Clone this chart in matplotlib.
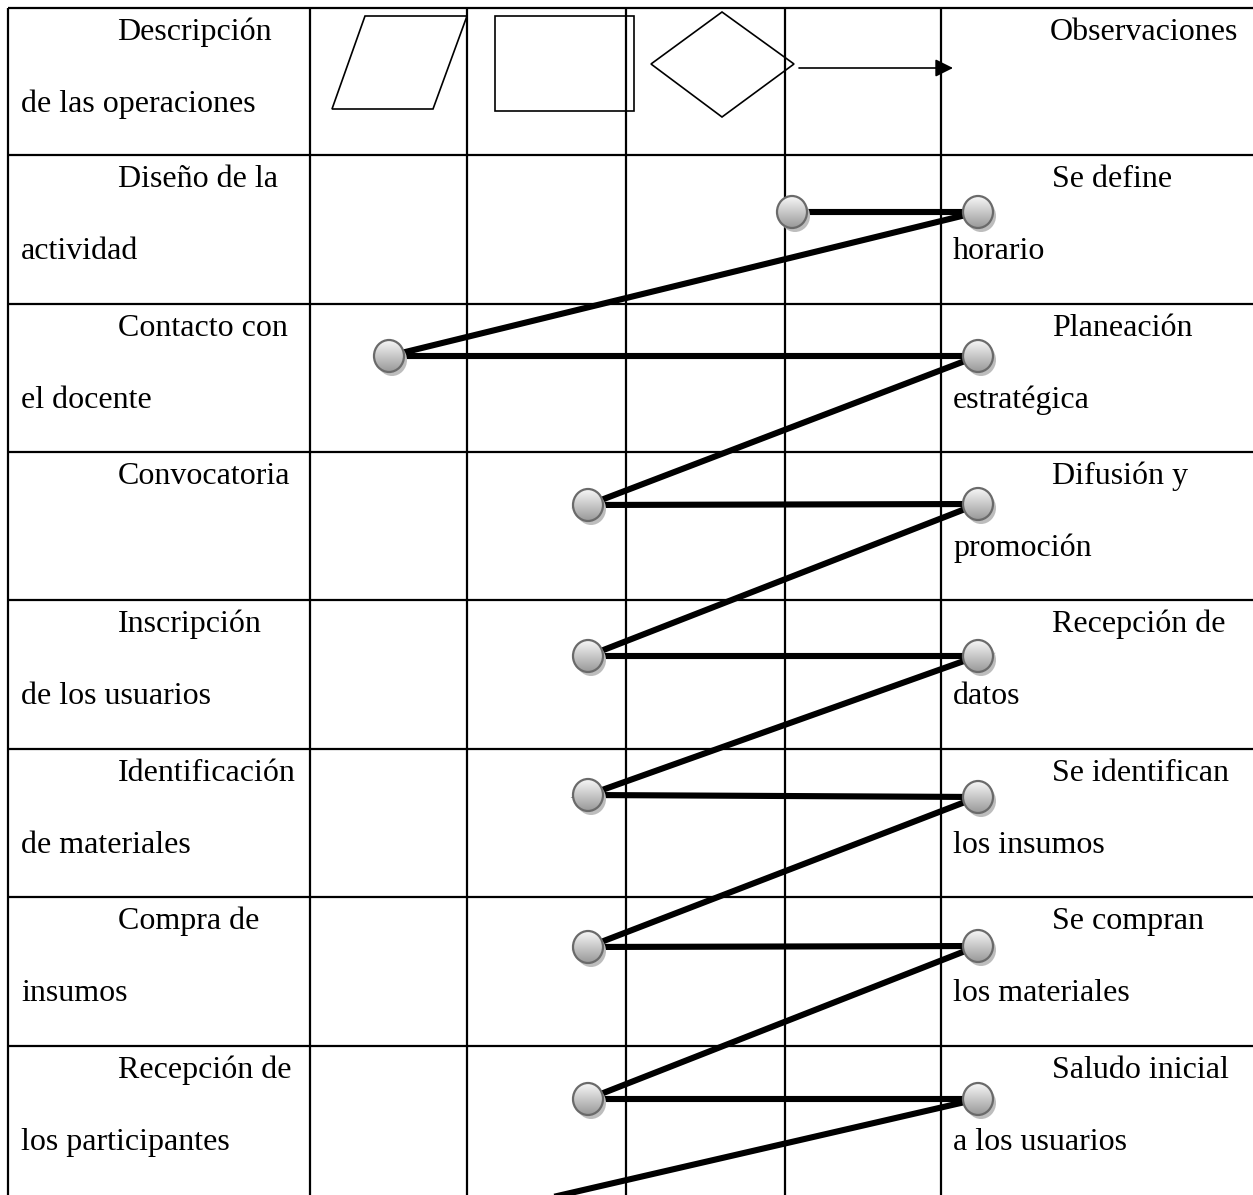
import numpy as np
import matplotlib
matplotlib.use("Agg")
import matplotlib.pyplot as plt
from matplotlib.patches import Ellipse, Polygon, Rectangle

# ---------------- data ----------------
header_left = ["Descripción", "de las operaciones"]
header_right = "Observaciones"

operations = [
    ("Diseño de la", "actividad"),
    ("Contacto con", "el docente"),
    ("Convocatoria", ""),
    ("Inscripción", "de los usuarios"),
    ("Identificación", "de materiales"),
    ("Compra de", "insumos"),
    ("Recepción de", "los participantes"),
]
observations = [
    ("Se define", "horario"),
    ("Planeación", "estratégica"),
    ("Difusión y", "promoción"),
    ("Recepción de", "datos"),
    ("Se identifican", "los insumos"),
    ("Se compran", "los materiales"),
    ("Saludo inicial", "a los usuarios"),
]

# node positions (page units) for each step: left node and right node
left_node_x = [792, 389, 588, 588, 588, 588, 588]
left_node_y = [212, 356, 505, 656, 795, 947, 1099]
right_node_x = [978, 978, 978, 978, 978, 978, 978]
right_node_y = [212, 356, 504, 656, 797, 946, 1099]
tail_point = (540, 1200)

# table layout
col_edges = [8, 310, 467, 626, 785, 941]
row_edges = [8, 155, 304, 452, 600, 749, 897, 1046]
W, H = 1253, 1195

# ---------------- figure ----------------
fig = plt.figure(figsize=(W / 100, H / 100), dpi=100)
ax = fig.add_axes([0, 0, 1, 1])
ax.set_xlim(0, W)
ax.set_ylim(H, 0)
ax.axis("off")

grid_lw = 1.6
for x in col_edges:
    ax.plot([x, x], [row_edges[0], H], color="black", lw=grid_lw, zorder=1,
            solid_capstyle="butt")
for y in row_edges:
    ax.plot([col_edges[0], W], [y, y], color="black", lw=grid_lw, zorder=1,
            solid_capstyle="butt")

# header symbols
shape_lw = 1.2
ax.add_patch(Polygon([(365, 16), (467, 16), (433, 109), (332, 109)], closed=True,
                     fill=False, ec="black", lw=shape_lw, zorder=2))
ax.add_patch(Rectangle((495, 16), 139, 95, fill=False, ec="black", lw=shape_lw, zorder=2))
ax.add_patch(Polygon([(651, 64), (722, 12), (794, 64), (722, 117)], closed=True,
                     fill=False, ec="black", lw=shape_lw, zorder=2))
ax.annotate("", xy=(953, 68), xytext=(799, 68),
            arrowprops=dict(arrowstyle="-|>,head_length=0.6,head_width=0.3",
                            mutation_scale=18, lw=1.2, color="black",
                            shrinkA=0, shrinkB=0), zorder=2)

# flow path
px, py = [], []
for i in range(len(operations)):
    px += [left_node_x[i], right_node_x[i]]
    py += [left_node_y[i], right_node_y[i]]
px.append(tail_point[0])
py.append(tail_point[1])
ax.plot(px, py, color="black", lw=4.4, zorder=3, solid_joinstyle="miter")

# nodes
grad = np.linspace(0.97, 0.60, 64)[:, None] * np.ones((1, 8))
def node(x, y):
    w, h = 30, 32
    ax.add_patch(Ellipse((x + 3, y + 4), w, h, fc="#bdbdbd", ec="none", zorder=4))
    clip = Ellipse((x, y), w, h, fc="none", ec="none", zorder=5)
    ax.add_patch(clip)
    im = ax.imshow(grad, cmap="gray", vmin=0, vmax=1, origin="upper",
                   extent=(x - w / 2, x + w / 2, y + h / 2, y - h / 2),
                   aspect="auto", zorder=5, interpolation="bilinear")
    im.set_clip_path(clip)
    ax.add_patch(Ellipse((x, y), w, h, fc="none", ec="#6a6a6a", lw=1.6, zorder=6))

for i in range(len(operations)):
    node(left_node_x[i], left_node_y[i])
    node(right_node_x[i], right_node_y[i])

ax.set_xlim(0, W)
ax.set_ylim(H, 0)

# text
fkw = dict(family="Liberation Serif", fontsize=23, color="black", va="baseline",
           ha="left", zorder=7)
first_off, second_off = 32, 104
left_x1, left_x2 = 118, 21
right_x1, right_x2 = 1052, 953

ax.text(left_x1 - 1, row_edges[0] + first_off, header_left[0], **fkw)
ax.text(left_x2, row_edges[0] + second_off, header_left[1], **fkw)
ax.text(right_x1 - 2, row_edges[0] + first_off, header_right, **fkw)

for i, (a, b) in enumerate(operations):
    top = row_edges[i + 1]
    ax.text(left_x1, top + first_off, a, **fkw)
    if b:
        ax.text(left_x2, top + second_off, b, **fkw)
for i, (a, b) in enumerate(observations):
    top = row_edges[i + 1]
    ax.text(right_x1, top + first_off, a, **fkw)
    if b:
        ax.text(right_x2, top + second_off, b, **fkw)

fig.savefig("out.png", dpi=100)
